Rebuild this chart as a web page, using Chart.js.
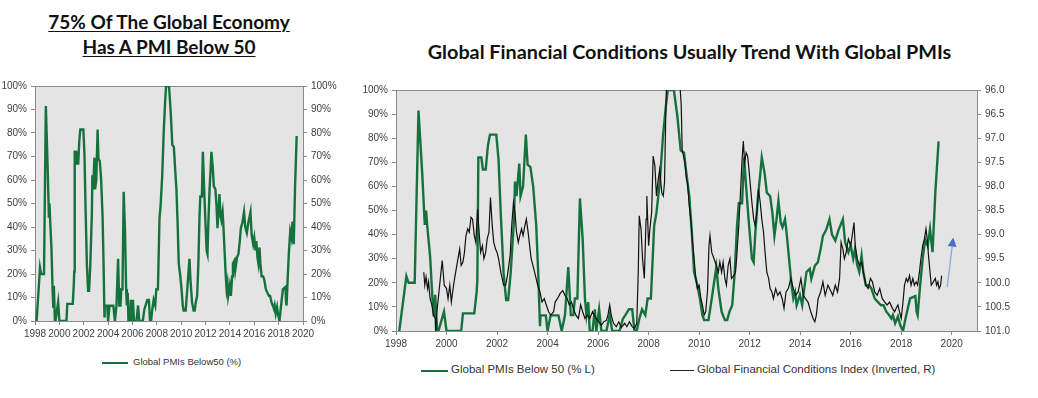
<!DOCTYPE html>
<html><head><meta charset="utf-8">
<script src="https://cdn.jsdelivr.net/npm/chart.js@4/dist/chart.umd.min.js"></script>
<style>
body{margin:0;background:#fff;width:1038px;height:398px;position:relative;overflow:hidden;font-family:"Liberation Sans",Arial,sans-serif;}
.t{position:absolute;font-family:Lato,"Open Sans",sans-serif;font-weight:bold;color:#111;white-space:nowrap;text-align:center;}
.u{text-decoration:underline;text-decoration-thickness:1px;text-underline-offset:2px;}
canvas{position:absolute;}
.lg{position:absolute;white-space:nowrap;color:#333;font-family:"Liberation Sans",Arial,sans-serif;}
.ln{position:absolute;height:2px;}
</style></head>
<body>
<div class="t u" style="left:0;width:338px;top:9px;font-size:19px;line-height:25px;">75% Of The Global Economy</div>
<div class="t u" style="left:0;width:338px;top:34px;font-size:19px;line-height:25px;">Has A PMI Below 50</div>
<div class="t" style="left:389px;width:601px;top:39px;font-size:19.8px;line-height:25px;">Global Financial Conditions Usually Trend With Global PMIs</div>

<canvas id="cL" width="345" height="270" style="left:0;top:76px;"></canvas>
<canvas id="cR" width="660" height="276" style="left:355px;top:80px;"></canvas>

<div class="ln" style="left:102px;top:362px;width:26px;background:#16723d;"></div>
<div class="lg" style="left:133px;top:356px;font-size:9.5px;">Global PMIs Below50 (%)</div>
<div class="ln" style="left:421px;top:370px;width:27px;background:#16723d;"></div>
<div class="lg" style="left:451px;top:363px;font-size:11.5px;">Global PMIs Below 50 (% L)</div>
<div class="ln" style="left:670px;top:370px;width:24px;height:1px;background:#222;"></div>
<div class="lg" style="left:697px;top:363px;font-size:11.5px;">Global Financial Conditions Index (Inverted, R)</div>

<script>
// ---- data ----
const pmiYears = [1998.13,1998.41,1998.5,1998.74,1998.89,1999.04,1999.14,1999.19,1999.25,1999.35,1999.44,1999.5,1999.55,1999.63,1999.68,1999.9,2000.0,2000.58,2000.65,2001.1,2001.19,2001.22,2001.26,2001.38,2001.44,2001.55,2001.64,2001.72,2001.97,2002.06,2002.15,2002.26,2002.36,2002.44,2002.54,2002.67,2002.71,2002.77,2002.88,2002.93,2003.03,2003.14,2003.21,2003.32,2003.43,2003.55,2003.63,2003.7,2003.72,2003.93,2004.0,2004.12,2004.43,2004.56,2004.69,2004.82,2004.92,2005.02,2005.08,2005.18,2005.28,2005.39,2005.48,2005.54,2005.61,2005.67,2005.78,2005.87,2005.93,2006.04,2006.13,2006.33,2006.46,2006.56,2006.85,2006.98,2007.08,2007.22,2007.35,2007.44,2007.53,2007.63,2007.74,2007.87,2007.96,2008.09,2008.22,2008.31,2008.44,2008.57,2008.68,2008.76,2009.0,2009.14,2009.27,2009.4,2009.5,2009.61,2009.71,2009.8,2009.93,2010.03,2010.13,2010.2,2010.37,2010.5,2010.68,2010.76,2010.89,2011.02,2011.11,2011.2,2011.31,2011.41,2011.5,2011.57,2011.7,2011.78,2011.86,2011.96,2012.09,2012.16,2012.22,2012.33,2012.41,2012.48,2012.59,2012.68,2012.81,2012.9,2012.98,2013.06,2013.14,2013.23,2013.3,2013.4,2013.46,2013.56,2013.66,2013.73,2013.8,2013.86,2013.99,2014.08,2014.18,2014.25,2014.38,2014.44,2014.58,2014.7,2014.81,2014.9,2015.03,2015.16,2015.26,2015.39,2015.52,2015.69,2015.78,2015.91,2016.0,2016.1,2016.17,2016.26,2016.34,2016.43,2016.5,2016.6,2016.73,2016.82,2016.95,2017.08,2017.2,2017.3,2017.41,2017.52,2017.61,2017.67,2017.76,2017.87,2017.96,2018.07,2018.17,2018.26,2018.35,2018.56,2018.61,2018.65,2018.75,2018.85,2018.95,2019.05,2019.14,2019.24,2019.35,2019.48];
const pmiValues = [0,22.7,20,20,91.5,65,44,50,42,31,14,6,15,0,0,8,0,0,7.3,7.3,16,21,72,72,67,67,77,81.5,81.5,71,48,24,12.8,12.8,24,46,62,56,69.5,56,60,81.5,69,68,60,44,24,2,6.5,6.5,0,6.5,6.5,0,6.6,26.5,6.6,6.6,13.5,13.5,55,38,13.5,6.6,12,0,0,9,0,9,0,0,6.6,0,0,5,6.6,9,9,0,0,5,9,6.6,13.5,13.5,43.7,49,61.5,81,93,100,100,89,75,74,65,56,41,24.5,19,13.5,6.6,4.5,4.5,13.5,26.5,17.6,8,4.5,4.5,8,10.7,24.5,43.7,53,53,72,60,46,30,28.5,40,56,64,72,65.6,57.4,56,49,39.5,46,54,45,43,46.4,41,30,19,13.5,16,10.7,15,10.7,19,24.5,25.8,21.7,27,28.5,34,39.5,42,46.4,40,37.5,42,46.4,36.8,32.7,35.4,30,34,27.2,24.5,31.3,24.5,19,19,17.6,13.5,12,10.7,10.7,8,6.6,5.2,6.6,3.2,6,2.5,0,5.2,9.3,13.5,14.5,8,6.6,19,30,38,35.4,42.3,32.7,57.4,78.7];

const fciYears = [1999.1,1999.14,1999.19,1999.25,1999.29,1999.35,1999.42,1999.48,1999.55,1999.57,1999.6,1999.7,1999.78,1999.83,1999.91,2000.0,2000.06,2000.13,2000.19,2000.26,2000.32,2000.43,2000.52,2000.58,2000.65,2000.71,2000.77,2000.84,2000.9,2000.97,2001.03,2001.1,2001.16,2001.23,2001.29,2001.35,2001.42,2001.48,2001.55,2001.61,2001.68,2001.74,2001.81,2001.87,2001.94,2002.0,2002.06,2002.15,2002.26,2002.34,2002.41,2002.52,2002.58,2002.65,2002.71,2002.77,2002.84,2002.9,2002.97,2003.03,2003.1,2003.16,2003.23,2003.29,2003.35,2003.42,2003.52,2003.61,2003.7,2003.78,2003.87,2003.95,2004.04,2004.13,2004.24,2004.3,2004.39,2004.5,2004.6,2004.69,2004.78,2004.86,2004.95,2005.02,2005.12,2005.22,2005.31,2005.39,2005.48,2005.57,2005.67,2005.78,2005.85,2005.93,2006.04,2006.13,2006.22,2006.33,2006.39,2006.46,2006.52,2006.61,2006.72,2006.82,2006.92,2007.05,2007.14,2007.24,2007.35,2007.44,2007.53,2007.59,2007.63,2007.7,2007.76,2007.83,2007.9,2007.93,2008.0,2008.05,2008.12,2008.18,2008.25,2008.31,2008.38,2008.44,2008.52,2008.58,2008.63,2008.68,2008.72,2008.9,2009.1,2009.24,2009.29,2009.33,2009.44,2009.5,2009.54,2009.61,2009.67,2009.74,2009.8,2009.87,2009.93,2010.0,2010.07,2010.13,2010.2,2010.26,2010.33,2010.39,2010.43,2010.5,2010.59,2010.68,2010.76,2010.82,2010.89,2010.95,2011.02,2011.08,2011.15,2011.22,2011.28,2011.37,2011.44,2011.5,2011.57,2011.63,2011.7,2011.75,2011.8,2011.86,2011.92,2011.96,2012.03,2012.09,2012.16,2012.22,2012.29,2012.35,2012.42,2012.48,2012.55,2012.61,2012.68,2012.75,2012.81,2012.88,2012.94,2013.03,2013.11,2013.2,2013.29,2013.36,2013.44,2013.53,2013.63,2013.73,2013.82,2013.92,2014.03,2014.12,2014.21,2014.31,2014.42,2014.51,2014.58,2014.64,2014.71,2014.81,2014.9,2014.99,2015.1,2015.23,2015.29,2015.39,2015.48,2015.56,2015.62,2015.69,2015.75,2015.82,2015.91,2016.0,2016.08,2016.13,2016.18,2016.26,2016.34,2016.43,2016.5,2016.6,2016.69,2016.78,2016.86,2016.95,2017.05,2017.15,2017.25,2017.35,2017.44,2017.54,2017.65,2017.74,2017.8,2017.87,2017.93,2018.0,2018.07,2018.13,2018.2,2018.26,2018.33,2018.39,2018.46,2018.52,2018.59,2018.65,2018.72,2018.78,2018.85,2018.92,2018.98,2019.03,2019.08,2019.14,2019.19,2019.27,2019.35,2019.4,2019.45,2019.5,2019.56,2019.6];
const fciValues = [99.78,100.05,99.88,100.12,99.98,100.33,100.46,100.67,100.74,101.05,100.7,100.19,99.78,99.54,100.05,100.12,100.33,100.05,100.4,100.12,99.91,99.57,99.3,99.64,99.57,99.37,99.02,98.88,98.95,98.64,98.68,99.02,99.16,98.47,98.95,99.37,99.23,99.5,99.37,99.09,98.95,98.23,98.82,99.16,99.3,99.37,99.5,99.78,100.05,100.05,99.85,99.43,98.82,98.34,98.54,98.95,99.16,99.02,98.88,99.02,98.82,98.68,98.95,99.23,99.5,99.64,99.85,100.05,100.19,100.4,100.33,100.46,100.6,100.67,100.6,100.4,100.33,100.22,100.16,100.26,100.33,100.46,100.4,100.53,100.67,100.74,100.46,100.6,100.74,100.67,100.74,100.6,100.67,100.74,100.82,100.88,100.81,100.78,100.67,100.46,100.67,100.84,100.91,100.81,100.93,100.84,100.91,100.81,100.91,100.95,100.84,99.78,98.61,98.89,99.5,99.91,98.68,98.2,99.23,98.89,98.54,97.37,97.58,98.2,97.85,97.65,98.13,98.2,97.92,96.5,95.6,95.2,95.5,95.9,96.3,97.24,97.51,97.85,97.92,98.4,98.68,99.16,99.5,99.91,100.12,100.05,100.33,100.46,100.67,100.6,100.19,99.23,99.02,99.37,99.5,99.64,99.78,99.57,99.78,99.57,99.91,100.05,99.64,99.5,99.91,99.85,99.78,99.37,98.82,98.2,97.44,97.06,97.51,97.3,97.37,97.58,97.99,98.34,98.68,98.82,98.54,98.06,98.34,98.68,98.95,99.37,99.78,99.91,100.12,100.19,100.33,100.12,100.26,100.19,100.33,100.53,100.19,100.12,99.91,100.12,100.26,100.19,99.91,100.26,100.33,100.4,100.6,100.74,100.81,100.67,100.33,100.19,99.98,100.26,100.05,100.19,100.26,100.05,100.19,99.91,99.16,99.3,99.5,99.37,99.09,99.23,98.95,98.75,99.23,99.5,99.64,99.57,99.78,100.05,100.12,99.91,99.98,100.19,100.26,100.12,100.33,100.4,100.46,100.4,100.53,100.6,100.53,100.46,100.6,100.74,100.4,100.05,99.91,99.98,99.85,100.05,99.91,100.05,99.98,100.05,99.78,99.5,99.23,99.09,98.88,99.09,99.43,99.78,100.05,99.98,99.91,100.05,99.98,100.12,100.05,99.85];

const leftYearRange = [1998, 2020];   // left panel x range
const rightYearRange = [1998, 2021];  // right panel x range
const yearStep = 2;
const pctRange = [0, 100];
const fciRange = [96, 101];
const arrowYears = [2019.82, 2020.06];
const arrowLevels = [100.09, 99.06];

// ---- styles ----
const GREEN = '#16723d';
const AXIS = '#8a8a8a';
const TICKFONT = {family:'"Liberation Sans Narrow","Liberation Sans",Arial,sans-serif', size:10};
const TICKCOL = '#404040';

const plotBg = {
  id:'plotBg',
  beforeDraw(chart){
    const {ctx, chartArea:a} = chart;
    ctx.save();
    ctx.fillStyle = '#e4e4e4';
    ctx.fillRect(a.left, a.top, a.right-a.left, a.bottom-a.top);
    ctx.strokeStyle = AXIS; ctx.lineWidth = 1;
    ctx.strokeRect(Math.round(a.left)+0.5, Math.round(a.top)+0.5, Math.round(a.right-a.left), Math.round(a.bottom-a.top));
    ctx.restore();
  }
};

const arrowPlugin = {
  id:'arrow',
  afterDatasetsDraw(chart){
    const x = chart.scales.x, y = chart.scales.y2;
    if(!y) return;
    const x0 = x.getPixelForValue(arrowYears[0]), y0 = y.getPixelForValue(arrowLevels[0]);
    const x1 = x.getPixelForValue(arrowYears[1]), y1 = y.getPixelForValue(arrowLevels[1]);
    const ctx = chart.ctx;
    const ang = Math.atan2(y1-y0, x1-x0);
    const hl = 9, hw = 4.5;
    const bx = x1 - hl*Math.cos(ang), by = y1 - hl*Math.sin(ang);
    ctx.save();
    ctx.strokeStyle = '#8ea9d8'; ctx.lineWidth = 1.3;
    ctx.beginPath(); ctx.moveTo(x0,y0); ctx.lineTo(bx,by); ctx.stroke();
    ctx.fillStyle = '#4472c4';
    ctx.beginPath();
    ctx.moveTo(x1,y1);
    ctx.lineTo(bx + hw*Math.sin(ang), by - hw*Math.cos(ang));
    ctx.lineTo(bx - hw*Math.sin(ang), by + hw*Math.cos(ang));
    ctx.closePath(); ctx.fill();
    ctx.restore();
  }
};

function xScale(range){
  return {type:'linear', min:range[0], max:range[1],
    ticks:{stepSize:yearStep, autoSkip:false, maxRotation:0, font:TICKFONT, color:TICKCOL, padding:3, callback:v=>String(v)},
    afterBuildTicks:s=>{
      const t = [];
      for(let v = range[0]; v <= range[1]; v += yearStep) t.push({value:v});
      s.ticks = t;
    },
    grid:{drawOnChartArea:false, drawTicks:true, tickLength:4, color:AXIS},
    border:{color:AXIS},
    afterFit:s=>{s.height=25;}};
}
function yScale(pos, min, max, step, fmt, width, reverse){
  return {type:'linear', position:pos, min, max, reverse:!!reverse,
    ticks:{stepSize:step, font:TICKFONT, color:TICKCOL, padding:4, callback:fmt},
    grid:{drawOnChartArea:false, drawTicks:true, tickLength:4, color:AXIS},
    border:{color:AXIS},
    afterFit:s=>{s.width=width;}};
}
const pct = v=>v+'%';
const common = {responsive:false, animation:false, events:[], plugins:{legend:{display:false}, tooltip:{enabled:false}}};

const pmiPoints = pmiYears.map((x,i)=>({x, y:pmiValues[i]}));
const fciPoints = fciYears.map((x,i)=>({x, y:fciValues[i]}));

new Chart(document.getElementById('cL'), {
  type:'line',
  data:{datasets:[{label:'Global PMIs Below50 (%)', data:pmiPoints, borderColor:GREEN, borderWidth:2.4, pointRadius:0, tension:0, yAxisID:'y'}]},
  options:Object.assign({}, common, {
    layout:{padding:{top:10, left:0, right:0, bottom:0}},
    scales:{
      x:xScale(leftYearRange),
      y:yScale('left', pctRange[0], pctRange[1], 10, pct, 35),
      y2:yScale('right', pctRange[0], pctRange[1], 10, pct, 42)
    }}),
  plugins:[plotBg]
});

new Chart(document.getElementById('cR'), {
  type:'line',
  data:{datasets:[
    {label:'Global PMIs Below 50 (% L)', data:pmiPoints, borderColor:GREEN, borderWidth:2.4, pointRadius:0, tension:0, yAxisID:'y', order:1},
    {label:'Global Financial Conditions Index (Inverted, R)', data:fciPoints, borderColor:'#111', borderWidth:1.2, pointRadius:0, tension:0, yAxisID:'y2', order:0}
  ]},
  options:Object.assign({}, common, {
    layout:{padding:{top:9, left:0, right:0, bottom:0}},
    scales:{
      x:xScale(rightYearRange),
      y:yScale('left', pctRange[0], pctRange[1], 10, pct, 41),
      y2:yScale('right', fciRange[0], fciRange[1], 0.5, v=>v.toFixed(1), 38, true)
    }}),
  plugins:[plotBg, arrowPlugin]
});
</script>
</body></html>
